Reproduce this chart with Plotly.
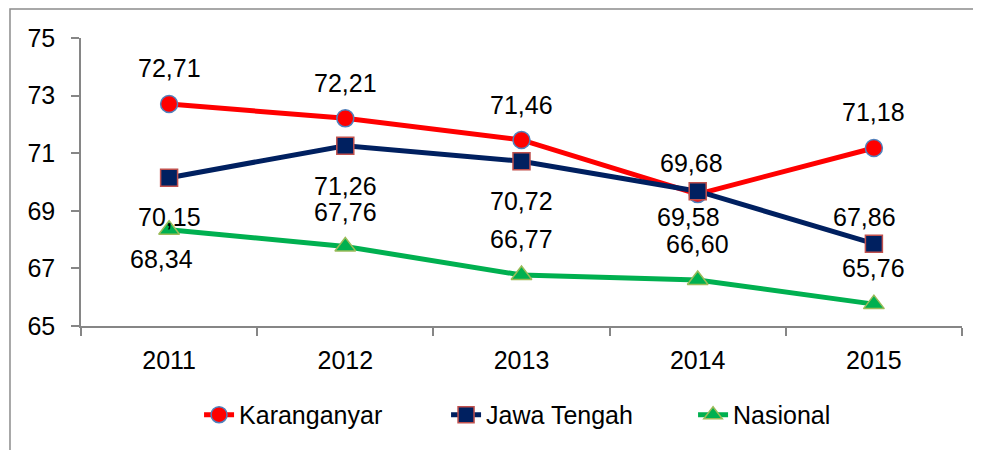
import plotly.graph_objects as go

years = ["2011", "2012", "2013", "2014", "2015"]
karanganyar = [72.71, 72.21, 71.46, 69.58, 71.18]
jawa_tengah = [70.15, 71.26, 70.72, 69.68, 67.86]
nasional = [68.34, 67.76, 66.77, 66.60, 65.76]
y_ticks = [65, 67, 69, 71, 73, 75]

xpos = list(range(len(years)))

# label pixel offsets (style only)
k_off = [(0, 36), (0, 35), (0, 35), (-9, -23), (0, 36)]
j_off = [(0, -39), (0, -40), (0, -40), (-6, 28), (-9, 27)]
n_off = [(-8, -29), (0, 35), (0, 36), (0, 36), (0, 36)]

FONT = "Liberation Sans"
FS = 25

fig = go.Figure()
fig.add_trace(go.Scatter(
    x=xpos, y=karanganyar, name="Karanganyar", mode="lines+markers",
    line=dict(color="#FF0000", width=5),
    marker=dict(symbol="circle", size=17, color="#FF0000",
                line=dict(color="#4F81BD", width=1.5))))
fig.add_trace(go.Scatter(
    x=xpos, y=jawa_tengah, name="Jawa Tengah", mode="lines+markers",
    line=dict(color="#002060", width=5),
    marker=dict(symbol="square", size=17, color="#002060",
                line=dict(color="#C0504D", width=1.5))))
fig.add_trace(go.Scatter(
    x=xpos, y=nasional, name="Nasional", mode="lines+markers",
    line=dict(color="#00B050", width=5),
    marker=dict(symbol="triangle-up", size=18, color="#00B050",
                line=dict(color="#9BBB59", width=1.5))))

annots = []
for series, offs in ((karanganyar, k_off), (jawa_tengah, j_off), (nasional, n_off)):
    for xi, v, (dx, dy) in zip(xpos, series, offs):
        annots.append(dict(
            x=xi, y=v, xref="x", yref="y", showarrow=False,
            text=f"{v:.2f}".replace(".", ","), xshift=dx, yshift=dy,
            font=dict(family=FONT, size=FS, color="#000000")))

fig.update_layout(
    width=973, height=442,
    margin=dict(l=73, r=19, t=30, b=124),
    paper_bgcolor="white", plot_bgcolor="white",
    font=dict(family=FONT, size=FS, color="#000000"),
    showlegend=True,
    legend=dict(orientation="h", x=0.134, xanchor="left", y=-0.309, yanchor="middle",
                entrywidth=202, entrywidthmode="pixels",
                font=dict(family=FONT, size=FS, color="#000000"),
                bgcolor="rgba(0,0,0,0)"),
    annotations=annots,
    shapes=[dict(type="rect", xref="paper", yref="paper",
                 x0=-0.0806, x1=1.2, y0=-0.7, y1=1.1007,
                 line=dict(color="#8C8C8C", width=1.5), layer="below")],
)
fig.update_xaxes(range=[-0.5, len(years) - 0.5], tickvals=xpos, ticktext=years,
                 showline=True, linecolor="#868686", linewidth=1.5,
                 ticks="", showgrid=False, zeroline=False, ticklabelstandoff=11,
                 minor=dict(tick0=-0.5, dtick=1, ticks="outside", ticklen=8,
                            tickcolor="#868686", tickwidth=1.5, showgrid=False),
                 tickfont=dict(family=FONT, size=FS, color="#000000"))
fig.update_yaxes(range=[65, 75], tickvals=y_ticks,
                 ticktext=[str(t) for t in y_ticks],
                 showline=True, linecolor="#868686", linewidth=1.5,
                 ticks="outside", ticklen=8, tickcolor="#868686", tickwidth=1.5,
                 showgrid=False, zeroline=False, ticklabelstandoff=11,
                 tickfont=dict(family=FONT, size=FS, color="#000000"))

fig.write_html("out.html")
